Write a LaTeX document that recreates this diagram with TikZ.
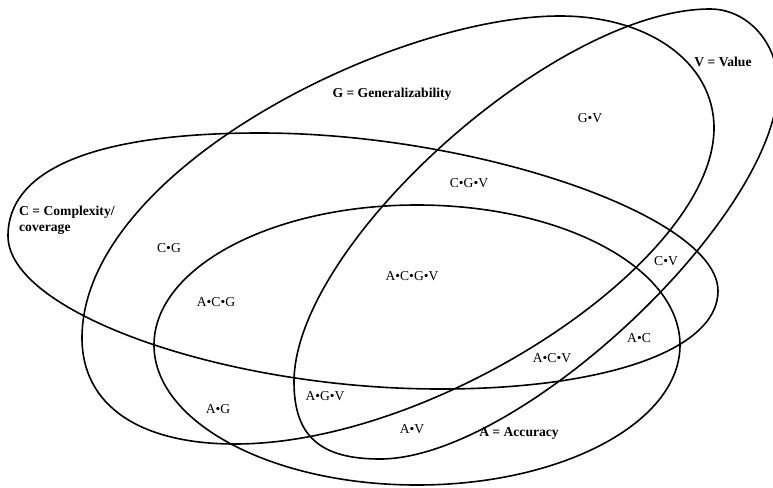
\documentclass[tikz,border=0pt]{standalone}
\usepackage{fontspec}
\setmainfont{Liberation Serif}
\begin{document}
\begin{tikzpicture}[x=1pt,y=-1pt,
  outline/.style={line width=1.6pt, black},
  lbl/.style={inner sep=0pt, font=\fontsize{13.6}{16.5}\selectfont},
  title/.style={lbl, font=\fontsize{13.6}{16.5}\selectfont\bfseries}]
\useasboundingbox (0,0) rectangle (773,487);
\begin{scope}
\clip (0,0) rectangle (773,487);
% A = Accuracy
\draw[outline] (417,345) ellipse [x radius=263, y radius=140];
% C = Complexity/coverage
\draw[outline] (8,236)
  .. controls (8,168.7) and (96.2,133) .. (260,133)
  .. controls (475.3,133) and (718,216.2) .. (718,291)
  .. controls (718,349.4) and (606.8,389) .. (440,389)
  .. controls (224,389) and (8,312) .. cycle;
% G = Generalizability
\draw[outline] (82,338)
  .. controls (82,170.6) and (392.7,16) .. (560,16)
  .. controls (649.3,16) and (714,63) .. (714,128)
  .. controls (714,260.7) and (436.2,444) .. (235,444)
  .. controls (138.6,444) and (82,404.8) .. cycle;
% V = Value
\draw[outline] (294,382)
  .. controls (294,244) and (556,9) .. (710,9)
  .. controls (747.5,9) and (778,43) .. (778,85)
  .. controls (778,215.9) and (519.3,459) .. (380,459)
  .. controls (319.8,459) and (294,435.9) .. cycle;
\end{scope}
% labels
\node[title] (tG) at (392,94) {G = Generalizability};
\node[title] (tV) at (723,62) {V = Value};
\node[title, anchor=west, align=left] (tC) at (19,220.5) {C = Complexity/\\coverage};
\node[title] (tA) at (519,433) {A = Accuracy};
\node[lbl] (gv) at (590,118) {G•V};
\node[lbl] (cgv) at (469,183) {C•G•V};
\node[lbl] (cg) at (169,248) {C•G};
\node[lbl] (acg) at (216,302) {A•C•G};
\node[lbl] (acgv) at (412,276) {A•C•G•V};
\node[lbl] (cv) at (666,261) {C•V};
\node[lbl] (ac) at (639,338) {A•C};
\node[lbl] (acv) at (552,358) {A•C•V};
\node[lbl] (agv) at (325,396) {A•G•V};
\node[lbl] (ag) at (218,409) {A•G};
\node[lbl] (av) at (412,429) {A•V};
\end{tikzpicture}
\end{document}
